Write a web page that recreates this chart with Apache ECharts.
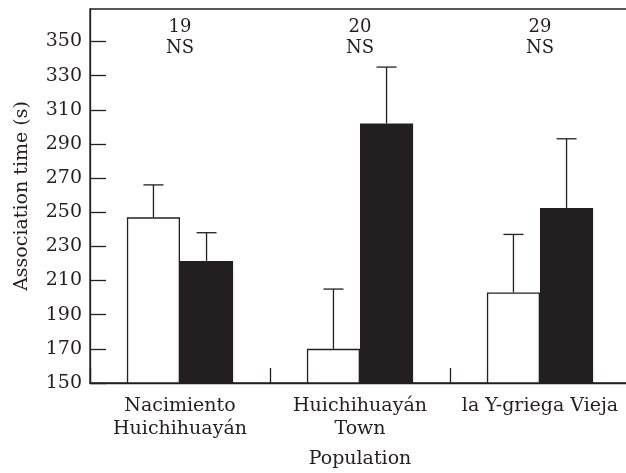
<!DOCTYPE html>
<html><head><meta charset="utf-8">
<script src="https://cdn.jsdelivr.net/npm/echarts@6/dist/echarts.min.js"></script>
<style>html,body{margin:0;padding:0;background:#fff}#c{width:626px;height:473px}</style>
</head><body><div id="c"></div>
<script>
const categories = ['Nacimiento\nHuichihuayán', 'Huichihuayán\nTown', 'la Y-griega Vieja'];
const whiteMeans = [247, 170, 203];
const whiteErrTop = [266, 205, 237];
const blackMeans = [221.5, 302, 252.5];
const blackErrTop = [238, 335, 293];
const sampleSizes = ['19', '20', '29'];
const sigLabels = ['NS', 'NS', 'NS'];
const annotY = 352;

const FONT = 'DejaVu Serif';
const TXT = '#231f20';
const chart = echarts.init(document.getElementById('c'), null, {renderer: 'canvas'});

function errRender(seriesIdx, means, tops) {
  return function (params, api) {
    const i = api.value(0);
    const bottom = api.coord([i, means[i]]);
    const top = api.coord([i, tops[i]]);
    const band = api.size([1, 0])[0];
    const bw = band * 0.59 / 2;
    const off = seriesIdx === 0 ? -bw / 2 : bw / 2;
    const x = bottom[0] + off;
    const cap = 10;
    const style = {stroke: TXT, lineWidth: 1.3};
    return {type: 'group', children: [
      {type: 'line', shape: {x1: x, y1: bottom[1], x2: x, y2: top[1]}, style},
      {type: 'line', shape: {x1: x - cap, y1: top[1], x2: x + cap, y2: top[1]}, style}
    ]};
  };
}

function annotRender(params, api) {
  const i = api.value(0);
  const p = api.coord([i, annotY]);
  return {type: 'text', x: p[0], y: p[1], style: {
    text: sampleSizes[i] + '\n' + sigLabels[i], fill: TXT, font: '18px "DejaVu Serif"',
    lineHeight: 21, align: 'center', verticalAlign: 'middle'}};
}

chart.setOption({
  animation: false,
  backgroundColor: '#fff',
  grid: {left: 90, top: 9, right: -4, bottom: 90, show: true, borderColor: TXT, borderWidth: 1.3, outerBoundsMode: 'none'},
  xAxis: {
    type: 'category', data: categories, boundaryGap: true,
    axisLine: {show: true, lineStyle: {color: TXT, width: 1.3}},
    axisTick: {show: true, inside: true, length: 15, interval: 0, alignWithLabel: false, lineStyle: {color: TXT, width: 1.3}},
    axisLabel: {color: TXT, fontFamily: FONT, fontSize: 19, lineHeight: 23, margin: 12, interval: 0, hideOverlap: false},
    name: 'Population', nameLocation: 'middle', nameGap: 67,
    nameTextStyle: {color: TXT, fontFamily: FONT, fontSize: 19}
  },
  yAxis: {
    type: 'value', min: 150, max: 369, interval: 20,
    splitLine: {show: false},
    axisLine: {show: true, lineStyle: {color: TXT, width: 1.3}},
    axisTick: {show: true, inside: true, length: 16, lineStyle: {color: TXT, width: 1.3}},
    axisLabel: {color: TXT, fontFamily: FONT, fontSize: 19, margin: 8, showMaxLabel: false},
    name: 'Association time (s)', nameLocation: 'middle', nameGap: 58,
    nameTextStyle: {color: TXT, fontFamily: FONT, fontSize: 19}
  },
  series: [
    {type: 'bar', data: whiteMeans, barGap: '0%', barCategoryGap: '41%',
     itemStyle: {color: '#fff', borderColor: TXT, borderWidth: 1.3}},
    {type: 'bar', data: blackMeans,
     itemStyle: {color: '#231f20', borderColor: '#231f20', borderWidth: 0}},
    {type: 'custom', data: whiteMeans.map((v, i) => [i, v]), renderItem: errRender(0, whiteMeans, whiteErrTop), z: 5},
    {type: 'custom', data: blackMeans.map((v, i) => [i, v]), renderItem: errRender(1, blackMeans, blackErrTop), z: 5},
    {type: 'custom', data: categories.map((c, i) => [i, annotY]), renderItem: annotRender, z: 5}
  ]
});
</script></body></html>
